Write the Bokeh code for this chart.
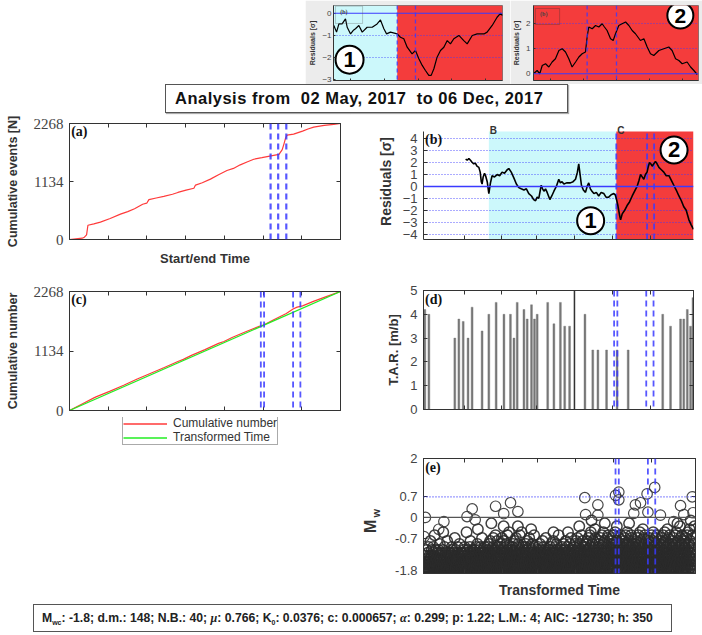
import numpy as np
from bokeh.plotting import figure
from bokeh.models import (Range1d, LinearAxis, FixedTicker, Span, BoxAnnotation,
                          Label, Legend, LegendItem, Div, Spacer)
from bokeh.layouts import column, row
from bokeh.embed import file_html
from bokeh.resources import INLINE
from bokeh.core.properties import value

# ---------------- data ----------------
title_from = "02 May, 2017"
title_to = "06 Dec, 2017"

# (a) cumulative events vs start/end time (time in % of window)
a_time = [0, 4.7, 5.5, 6.3, 6.8, 9.0, 11.4, 15.0, 18.8, 21.5, 24.0, 27.0, 28.5, 29.3, 32.0,
          34.8, 38.0, 40.0, 43.0, 45.9, 46.5, 49.0, 52.0, 55.0, 58.1, 60.5, 63.0, 65.5, 68.0,
          71.0, 73.9, 77.3, 78.5, 79.2, 79.7, 80.3, 82.7, 86.0, 88.0, 90.1, 94.0, 97.5, 100]
a_count = [0, 25, 45, 89, 278, 305, 340, 410, 497, 545, 600, 690, 710, 780, 812,
           844, 885, 920, 965, 1002, 1064, 1110, 1180, 1265, 1348, 1390, 1460, 1515, 1569,
           1600, 1631, 1663, 1758, 1880, 1979, 2041, 2060, 2120, 2160, 2198, 2230, 2249, 2268]
a_marks = [74.2, 77.0, 80.0]
count_ticks = [0, 1134, 2268]
time_ticks = [14.29, 28.57, 42.86, 57.14, 71.43, 85.71]

# (b) residuals
res_t = [15.6, 16.2, 16.8, 17.4, 17.9, 18.6, 19.2, 19.8, 20.5, 21.0, 21.4, 21.7, 22.1, 22.6,
         23.0, 23.6, 24.2, 24.8, 25.4, 26.3, 27.3, 28.2, 29.1, 30.0, 31.0, 31.6, 32.5, 33.5,
         34.4, 35.3, 36.2, 37.2, 38.1, 39.0, 40.0, 40.8, 41.5, 42.1, 42.7, 43.6, 44.1, 44.6,
         45.2, 45.8, 46.3, 46.8, 47.5, 48.3, 49.2, 50.1, 50.7, 51.3, 52.0, 53.0, 54.4, 55.4,
         56.3, 57.0, 57.5, 58.0, 58.5, 59.2, 60.0, 60.6, 61.2, 61.8, 62.4, 63.1, 64.0, 64.9,
         65.8, 66.8, 67.6, 68.6, 69.5, 70.5, 71.0, 71.4, 72.0, 72.3, 72.7, 73.0, 73.6, 74.5,
         75.4, 76.3, 77.3, 78.2, 79.1, 79.8, 80.4, 81.0, 81.6, 82.2, 82.8, 83.3, 83.7, 84.2,
         84.7, 85.3, 85.9, 86.5, 87.2, 88.1, 89.0, 89.9, 90.9, 91.8, 92.7, 93.6, 94.6, 95.5,
         96.4, 97.3, 98.3, 99.1, 100]
res_v = [2.3, 2.2, 2.35, 2.2, 2.05, 1.9, 1.95, 1.7, 1.6, 1.2, 0.4, 0.2, 0.8, 1.1,
         0.9, 0.4, -0.6, 0.3, 0.9, 0.8, 1.0, 0.9, 1.2, 1.1, 1.4, 1.5, 1.2, 0.7,
         0.2, -0.1, -0.2, -0.3, -0.2, -0.6, -0.8, -1.1, -1.2, -0.9, -1.0, 0.1, -0.2, -0.4,
         -0.2, -0.5, -0.8, -1.1, -0.8, -0.4, 0.0, 0.6, 0.3, 0.4, 0.2, 0.3, 0.3, 0.4,
         0.6, 1.2, 1.9, 1.0, 0.1, -0.3, -0.5, 0.0, 0.3, -0.2, -0.4, -0.6, -0.5, -0.8,
         -0.5, -0.6, -0.9, -0.9, -0.7, -0.6, -0.7, -1.0, -1.6, -2.0, -2.5, -2.8, -2.3, -2.0,
         -1.6, -1.3, -0.8, -0.4, 0.0, 0.5, 1.0, 0.8, 0.6, 1.0, 1.2, 1.7, 2.0, 1.9,
         1.7, 1.9, 2.1, 1.9, 1.6, 1.4, 1.2, 0.9, 0.9, 0.5, 0.1, -0.3, -0.8, -1.2,
         -1.7, -2.0, -2.8, -3.2, -3.6]
b_ylim = (-4.45, 4.6)
b_start, c_start = 24.2, 71.4
b_marks = [71.4, 82.8, 85.4]
res_ticks = [-4, -3, -2, -1, 0, 1, 2, 3, 4]
b_xticks = [15, 29, 42, 56, 70, 84]
b_circles_t = [61.9, 92.8]
b_circles_v = [-2.87, 3.06]
b_circles_txt = ["1", "2"]

# inset 1 (period B + C residuals)
i1_t = [0.2, 1.8, 3.2, 5.1, 7.1, 8.1, 10.1, 11.6, 13.0, 15.0, 17.0, 19.9, 22.9, 25.8, 27.8,
        29.8, 31.4, 33.7, 37.7, 39.6, 41.6, 43.6, 46.5, 48.5, 50.5, 52.5, 54.4, 56.4, 57.8,
        59.4, 61.3, 63.3, 65.3, 67.3, 69.2, 71.2, 74.2, 77.1, 79.1, 82.1, 85.0, 89.0, 90.9,
        93.9, 96.8, 98.8, 100]
i1_v = [-0.55, -0.85, -0.48, -0.48, -0.25, -0.63, -0.93, -0.78, -0.7, -0.55, -0.85, -0.63,
        -0.63, -0.48, -0.3, -0.7, -0.93, -0.85, -0.93, -1.08, -1.15, -1.53, -1.83, -1.68,
        -2.05, -2.35, -2.58, -2.8, -2.8, -2.5, -1.98, -1.68, -1.53, -1.23, -1.38, -1.15, -1.0,
        -1.23, -1.38, -1.0, -0.93, -0.93, -0.85, -0.55, -0.18, 0.0, -0.1]
i1_split = 37.7
i1_marks = [37.7, 48.5]
i1_ticks = [-3, -2, -1, 0]

# inset 2 (period C residuals)
i2_t = [0, 2.2, 3.8, 5.3, 7.3, 9.3, 11.3, 13.3, 15.4, 17.4, 19.4, 21.4, 23.4, 25.5, 27.5,
        29.5, 31.5, 32.5, 33.5, 35.6, 37.6, 39.6, 41.6, 43.0, 44.6, 46.7, 48.3, 49.7, 51.7,
        53.7, 55.8, 57.8, 59.8, 61.8, 64.8, 66.9, 68.9, 70.9, 72.9, 76.0, 79.0, 82.0, 84.0,
        86.1, 88.1, 90.1, 93.1, 95.2, 97.2, 99.2]
i2_v = [0, 0.13, 0, 0.33, 0.4, 0.27, 0.47, 0.6, 0.93, 1.0, 0.87, 0.6, 0.27, 0.47, 0.67,
        0.8, 0.87, 1.47, 1.87, 1.8, 1.93, 1.87, 2.0, 1.87, 1.73, 1.4, 1.33, 1.6, 1.93,
        2.0, 2.07, 1.93, 1.73, 1.6, 1.33, 1.4, 1.07, 0.8, 0.73, 0.93, 1.0, 1.07, 0.93,
        0.6, 0.53, 0.4, 0.47, 0.27, 0.13, -0.03]
i2_marks = [32.5, 50.3]
i2_ticks = [0, 1, 2]

# (c) cumulative number vs transformed time
c_time = [0, 5, 9, 10, 15, 20, 25, 30, 35, 40, 42, 45, 50, 55, 57, 60, 65, 70, 71, 72,
          75, 80, 82.5, 84, 86, 90, 95, 100]
c_count = [0, 135, 240, 265, 370, 480, 600, 710, 820, 935, 975, 1050, 1160, 1280, 1315,
           1390, 1500, 1605, 1620, 1640, 1720, 1850, 1935, 1970, 1995, 2080, 2175, 2268]
tt_time = [0, 100]
tt_count = [0, 2268]
legend_labels = ["Cumulative number", "Transformed Time"]
cde_marks = [70.6, 71.8, 82.5, 85.2]

# (d) T.A.R.
tar_t = [0.5, 2.0, 11.6, 13.1, 14.7, 16.5, 18.0, 21.7, 24.2, 26.9, 29.8, 32.2, 33.5, 34.7,
         37.2, 38.4, 40.0, 41.1, 42.1, 46.0, 48.3, 50.7, 52.3, 54.1, 59.8, 62.7, 64.6, 67.8,
         71.7, 75.8, 88.6, 91.5, 95.2, 96.4, 97.7, 98.9, 99.8]
tar_v = [4.2, 4.0, 3.0, 3.8, 3.7, 3.0, 4.3, 3.3, 4.0, 4.5, 4.0, 4.0, 3.0, 4.5,
         4.2, 3.8, 4.4, 3.8, 4.0, 4.5, 3.6, 4.5, 3.5, 3.5, 4.0, 2.5, 2.5, 2.5,
         2.5, 2.5, 4.0, 3.5, 3.8, 3.8, 4.2, 3.5, 4.7]
tar_divider_t = [55.9]
tar_divider_v = [5]
tar_ticks = [0, 1, 2, 3, 4, 5]

# (e) magnitudes, one letter per event in transformed-time order:
#     a = -1.8, b = -1.7, c = -1.6 ... (steps of 0.1)
mw_levels = "abcdefghijklmnopqrstuvwxyz"
mw_codes = (
    "acbadfabhcaebgadicafbdaekbacfhabdgaicebafmbdachaeb"
    "bacfdaghbaecjabdfacgbeadhancbfaiedbagcabfdkacebgad"
    "adcbfagcbeaidhabcfebagdlacbhfadcebaigbdfacjebadcgb"
    "cabgdfaebhcadibfgacednbafchbaegdcaibfkadcegbahdfcb"
    "abecfdhgaicbedfjaobcgadehfbaicdgbelacfhbdaegcibadf"
    "dabcfgeihadbjcefakdbgcqhaebdfilacgbehdamcbfagdkeib"
    "bcadfehgjbaidcflabegchpkadbfegicajbdhmaecgfbnadcie"
    "acbfdgehiabjcdefkacbghlaedcfibpajbcdgemhafcbdnaegi"
    "badcfehgabicdjfaebgkhcadfblicaegdhobacfjedgbiamcdf"
    "acbdfaegbhcadifbcaegjbdahfcebagkdbaicfhedabglacbfd"
    "bacdgfbeahcidbfajcgebdhaknbcfeagdibcahjfbdegacmbdf"
    "cabfdegahbcidfaebjgcadhbfkaecdgibanfcbhedajcgbldfa"
    "badcegfhaibdjcfeakgbdhclabfiecpdgajbhcemfadbkgiecb"
    "dacbgefihjbakdcfglaebhcmdianfbregjcdakbhfiecolgdba"
    "acbdfhegiajbckdfelagbhmcdifanbjegkqdbchafiegldbcma"
    "bdacfegihbjackdflegbmahcidnfbejgkpacdhbifelgcjadmb"
    "cadbgfehibjcakdflegmbhcainfdjbgekqcahdbifmlgecjdab"
    "abdcfgheijbackdfleghbmaicdjnfbegkhacdibofelgcjambd"
    "dbacgfehibjcdkafleghbciadmjfbegnkhcaibdfelgcjbamdh"
    "acbdgfheicjbkadflegbhmcaidjfnbegkchaibdofelgcjadmb"
    "bdcagefhijbkcadlfgebmhcianjdfbqegkchaibdpfelgcjamd"
    "cabdfgehijkbcadlfgembhncaidjfobegkrchaibdmfelgcjap"
)
# larger events read individually (transformed time %, Mw)
mw_big_t = [0.7, 17.9, 26.5, 32.0, 29.5, 34.7, 16.0, 19.0, 59.3, 59.6, 64.1, 64.1, 70.6, 71.8,
            71.8, 77.9, 79.8, 82.2, 82.5, 85.0, 87.1, 94.5, 95.7, 98.8, 99.1, 77.3, 92.0, 7.5,
            5.6, 0.2]
mw_big_v = [0.0, 0.29, 0.38, 0.5, 0.13, 0.2, 0.03, -0.08, 0.67, 0.1, 0.43, 0.08, 0.75, 0.86,
            0.6, 0.43, 0.5, 0.8, 0.18, 1.02, 0.08, 0.4, 0.1, 0.7, 0.16, 0.14, -0.14, -0.14,
            -0.4, -0.65]
mw_ylim = (-1.9, 2.0)
mw_ticks = [-1.8, -0.7, 0, 0.7, 2]
mw_tick_text = {-1.8: "-1.8", -0.7: "-0.7", 0: "0", 0.7: "0.7", 2: "2"}
mw_ref = 0.7

# footer parameters
par_names = ["M<sub style='font-size:7px'>wc</sub>", "d.m.", "N.B.",
             "<i style='font-family:Liberation Serif'>μ</i>",
             "K<sub style='font-size:7px'>0</sub>", "c",
             "<i style='font-family:Liberation Serif'>α</i>", "p", "L.M.", "AIC", "h"]
par_values = ["-1.8", "148", "40", "0.766", "0.0376", "0.000657", "0.299", "1.22", "4",
              "-12730", "350"]

# ---------------- styling helpers ----------------
SANS = "Liberation Sans"
SERIF = "Liberation Serif"
AX = "#333333"
TXT = "#444444"
BLUE = "#3a3aff"
RED = "#f43c3c"
CYAN = "#ccf8fb"
LRED = "#ff3a3a"
LGREEN = "#22ee22"


def base_fig(w, h, xr, yr, l, r, t, b, fill="white"):
    p = figure(width=w, height=h, x_range=Range1d(*xr), y_range=Range1d(*yr),
               output_backend="svg", toolbar_location=None,
               min_border_left=l, min_border_right=r, min_border_top=t, min_border_bottom=b)
    p.xgrid.visible = False
    p.ygrid.visible = False
    p.border_fill_color = fill
    p.background_fill_color = "white"
    p.outline_line_color = AX
    return p


def style_axis(ax, ticks, labels=True, font=SANS, size="13px", tick=4):
    ax.ticker = FixedTicker(ticks=ticks)
    ax.minor_tick_line_color = None
    ax.major_tick_in = tick
    ax.major_tick_out = 0
    ax.axis_line_color = AX
    ax.major_tick_line_color = AX
    if labels:
        ax.major_label_text_font = font
        ax.major_label_text_font_size = size
        ax.major_label_text_color = TXT
        ax.major_label_standoff = 6
    else:
        ax.major_label_text_font_size = "0px"
        ax.major_label_text_alpha = 0
        ax.major_label_text_color = None
        ax.major_label_standoff = 0


def title_axis(ax, text, size="13px", standoff=6):
    ax.axis_label = text
    ax.axis_label_text_font = SANS
    ax.axis_label_text_font_style = "bold"
    ax.axis_label_text_font_size = size
    ax.axis_label_text_color = "#333333"
    ax.axis_label_standoff = standoff


def box_axes(p, xt, yt):
    for loc, t in (("right", yt), ("above", xt)):
        ax = LinearAxis()
        style_axis(ax, t, labels=False)
        p.add_layout(ax, loc)


def vmarks(p, xs, width=2, dash="6 4"):
    for x in xs:
        p.add_layout(Span(location=x, dimension="height", line_color=BLUE, line_alpha=0.85,
                          line_width=width, line_dash=dash))


def panel_tag(p, x, y, txt):
    p.add_layout(Label(x=x, y=y, text=txt, text_font=SERIF, text_font_style="bold",
                       text_font_size="14px", text_baseline="top", text_color="#111111"))


def circled(p, xs, ys, txts, size=26, fsize="20px"):
    p.scatter(x=xs, y=ys, size=size, marker="circle", fill_color="white",
              line_color="black", line_width=2)
    p.text(x=xs, y=ys, text=txts, text_align="center", text_baseline="middle",
           text_font=value(SANS), text_font_style="bold", text_font_size=fsize,
           text_color="black")


def blank_fig(w, h, xr, yr, t=0, b=0):
    f = figure(width=w, height=h, x_range=Range1d(*xr), y_range=Range1d(*yr),
               output_backend="svg", toolbar_location=None, min_border_left=0,
               min_border_right=0, min_border_top=t, min_border_bottom=b)
    f.axis.visible = False
    f.grid.visible = False
    f.outline_line_color = None
    return f


# ---------------- insets ----------------
INSET_BG = "#ececec"
ins1 = base_fig(205, 84, (0, 100), (-3.03, 0.35), 28, 8, 5, 4, fill=INSET_BG)
ins1.add_layout(BoxAnnotation(left=0, right=i1_split, fill_color=CYAN, fill_alpha=1,
                              line_color=None, level="image"))
ins1.add_layout(BoxAnnotation(left=i1_split, right=100, fill_color=RED, fill_alpha=1,
                              line_color=None, level="image"))
ins1.ygrid.visible = True
ins1.ygrid.ticker = FixedTicker(ticks=[-2, -1])
ins1.ygrid.grid_line_color = BLUE
ins1.ygrid.grid_line_dash = "1 2"
ins1.ygrid.grid_line_alpha = 0.8
ins1.add_layout(Span(location=0, dimension="width", line_color=BLUE, line_width=1.2))
vmarks(ins1, i1_marks, width=1.3, dash="4 3")
ins1.line(i1_t, i1_v, line_color="black", line_width=1.2)
ins1.add_layout(BoxAnnotation(left=1.2, right=17.2, top=0.32, bottom=-0.46, fill_alpha=0,
                              line_color="#555555", line_width=1))
ins1.add_layout(Label(x=4, y=0.2, text="(b)", text_font=SERIF, text_font_style="bold",
                      text_font_size="6px", text_baseline="top"))
circled(ins1, [9.5], [-2.09], ["1"], size=28, fsize="22px")
style_axis(ins1.yaxis[0], i1_ticks, size="8px", tick=2)
ins1.yaxis[0].major_label_standoff = 2
title_axis(ins1.yaxis[0], "Residuals [σ]", size="7px", standoff=3)
style_axis(ins1.xaxis[0], [10, 30, 50, 70, 90], labels=False, tick=2)
ins1.outline_line_color = "#777777"

ins2 = base_fig(192, 84, (0, 100), (-0.27, 2.73), 23, 4, 5, 4, fill=INSET_BG)
ins2.add_layout(BoxAnnotation(left=0, right=100, fill_color=RED, fill_alpha=1,
                              line_color=None, level="image"))
ins2.ygrid.visible = True
ins2.ygrid.ticker = FixedTicker(ticks=[1, 2])
ins2.ygrid.grid_line_color = BLUE
ins2.ygrid.grid_line_dash = "1 2"
ins2.ygrid.grid_line_alpha = 0.8
ins2.add_layout(Span(location=0, dimension="width", line_color=BLUE, line_width=1.2))
vmarks(ins2, i2_marks, width=1.3, dash="4 3")
ins2.line(i2_t, i2_v, line_color="black", line_width=1.2)
ins2.add_layout(BoxAnnotation(left=1.2, right=15.8, top=2.61, bottom=1.97, fill_alpha=0,
                              line_color="#333333", line_width=1))
ins2.add_layout(Label(x=4, y=2.5, text="(b)", text_font=SERIF, text_font_style="bold",
                      text_font_size="6px", text_baseline="top"))
circled(ins2, [89], [2.33], ["2"], size=26, fsize="21px")
style_axis(ins2.yaxis[0], i2_ticks, size="8px", tick=2)
ins2.yaxis[0].major_label_standoff = 3
title_axis(ins2.yaxis[0], "Residuals [σ]", size="7px", standoff=3)
style_axis(ins2.xaxis[0], [10, 30, 50, 70, 90], labels=False, tick=2)
ins2.outline_line_color = "#777777"

# ---------------- title ----------------
title_div = Div(text=(
    "<div style=\"box-sizing:border-box;width:403px;height:29px;border:1px solid #555;"
    "box-shadow:1px 1px 1px #aaa;font-family:'Liberation Sans';font-weight:bold;"
    "font-size:16.5px;letter-spacing:0.5px;line-height:27px;padding-left:9px;color:#111;"
    "white-space:pre;\">"
    f"Analysis from  {title_from}  to {title_to}</div>"), width=405, height=30, margin=0)

# ---------------- (a) ----------------
pa = base_fig(350, 154, (0, 100), (0, 2268), 69, 10, 9, 25)
pa.line(a_time, a_count, line_color=LRED, line_width=1.2)
vmarks(pa, a_marks, width=2.2)
style_axis(pa.yaxis[0], count_ticks, font=SERIF, size="15px")
title_axis(pa.yaxis[0], "Cumulative events [N]", size="12.5px", standoff=11)
style_axis(pa.xaxis[0], time_ticks, labels=False)
title_axis(pa.xaxis[0], "Start/end Time", size="13px", standoff=11)
box_axes(pa, time_ticks, count_ticks)
panel_tag(pa, 0.6, 2262, "(a)")

# ---------------- (b) ----------------
# frame extended upward so the period letters sit above the plotted box
pb = base_fig(352, 154, (0, 100), (b_ylim[0], 5.28), 73, 9, 0, 25)
pb.outline_line_color = None
pb.add_layout(BoxAnnotation(left=b_start, right=c_start, top=b_ylim[1], fill_color=CYAN,
                            fill_alpha=1, line_color=None, level="image"))
pb.add_layout(BoxAnnotation(left=c_start, right=100, top=b_ylim[1], fill_color=RED,
                            fill_alpha=1, line_color=None, level="image"))
pb.ygrid.visible = True
pb.ygrid.ticker = FixedTicker(ticks=[t for t in res_ticks if t != 0])
pb.ygrid.grid_line_color = BLUE
pb.ygrid.grid_line_dash = "1 2"
pb.ygrid.grid_line_width = 1.2
pb.ygrid.grid_line_alpha = 0.85
pb.add_layout(Span(location=0, dimension="width", line_color=BLUE, line_width=1.5))
pb.segment(x0=b_marks, y0=[b_ylim[0]] * len(b_marks), x1=b_marks, y1=[b_ylim[1]] * len(b_marks),
           line_color=BLUE, line_alpha=0.85, line_width=1.8, line_dash="6 4")
pb.line(res_t, res_v, line_color="black", line_width=1.6)
circled(pb, b_circles_t, b_circles_v, b_circles_txt, size=27, fsize="22px")
style_axis(pb.yaxis[0], res_ticks, size="13px")
pb.yaxis[0].bounds = b_ylim
title_axis(pb.yaxis[0], "Residuals [σ]", size="14px", standoff=6)
style_axis(pb.xaxis[0], b_xticks, labels=False)
panel_tag(pb, 0.6, 4.58, "(b)")
pb.text(x=[b_start, c_start], y=[b_ylim[1], b_ylim[1]], text=["B", "C"], x_offset=1,
        y_offset=-1, text_font=value(SANS), text_font_style="bold", text_font_size="10px",
        text_baseline="alphabetic", text_color="#333333")

# ---------------- (c) ----------------
pc = base_fig(350, 149, (0, 100), (0, 2268), 69, 10, 23, 7)
pc.line(c_time, c_count, line_color=LRED, line_width=1.2)
pc.line(tt_time, tt_count, line_color=LGREEN, line_width=1.2)
vmarks(pc, cde_marks, width=1.8)
style_axis(pc.yaxis[0], count_ticks, font=SERIF, size="15px")
title_axis(pc.yaxis[0], "Cumulative number", size="12.5px", standoff=11)
style_axis(pc.xaxis[0], time_ticks, labels=False)
box_axes(pc, time_ticks, count_ticks)
panel_tag(pc, 0.6, 2262, "(c)")

# legend strip below (c); its frame lines up with the frame of (c) (x 69..340)
legf = blank_fig(350, 28, (0, 271), (0, 28))
l_cum = legf.line(x=[-20, -10], y=[-20, -20], line_color=LRED, line_width=1.4)
l_tt = legf.line(x=[-20, -10], y=[-20, -20], line_color=LGREEN, line_width=1.4)
leg = Legend(items=[LegendItem(label=value(legend_labels[0]), renderers=[l_cum]),
                    LegendItem(label=value(legend_labels[1]), renderers=[l_tt])],
             location=(53, 0), orientation="vertical", glyph_width=44, glyph_height=13,
             label_height=13, label_standoff=6, spacing=0, padding=0, margin=0,
             label_text_font=SANS, label_text_font_size="12px", label_text_color="#333333",
             label_text_line_height=1.0,
             border_line_color="#555555", background_fill_color="white",
             background_fill_alpha=1)
legf.add_layout(leg)

# ---------------- (d) ----------------
pd_ = base_fig(352, 177, (0, 100), (0, 5), 73, 9, 22, 36)
pd_.vbar(x=tar_t, top=tar_v, bottom=0, width=0.7, fill_color="#777777",
         line_color="#777777", line_width=0.4)
pd_.vbar(x=tar_divider_t, top=tar_divider_v, bottom=0, width=0.3, fill_color="#222222",
         line_color="#222222", line_width=0.6)
vmarks(pd_, cde_marks, width=1.8)
style_axis(pd_.yaxis[0], tar_ticks, size="13px")
title_axis(pd_.yaxis[0], "T.A.R. [m/b]", size="13px", standoff=6)
style_axis(pd_.xaxis[0], b_xticks, labels=False)
box_axes(pd_, b_xticks, tar_ticks)
panel_tag(pd_, 0.6, 4.95, "(d)")

# ---------------- (e) ----------------
pe = base_fig(317, 155, (0, 100), mw_ylim, 38, 7, 13, 22)
ev_m = np.array([mw_levels.index(ch) for ch in mw_codes]) / 10.0 - 1.8
ev_t = np.linspace(0.4, 99.6, len(ev_m))
pe.add_layout(Span(location=0, dimension="width", line_color="#555555", line_width=1.2))
pe.add_layout(Span(location=mw_ref, dimension="width", line_color=BLUE, line_width=1.2,
                   line_dash="1 2"))
pe.scatter(x=ev_t, y=ev_m, marker="circle", size=10.5, fill_color=None,
           line_color="#2a2a2a", line_width=1.5, line_alpha=0.9)
pe.scatter(x=mw_big_t, y=mw_big_v, marker="circle", size=10.5, fill_color=None,
           line_color="#333333", line_width=1.2, line_alpha=0.9)
vmarks(pe, cde_marks, width=1.8)
style_axis(pe.yaxis[0], mw_ticks, size="13px")
pe.yaxis[0].major_label_overrides = mw_tick_text
style_axis(pe.xaxis[0], b_xticks, labels=False)
title_axis(pe.xaxis[0], "Transformed Time", size="14px", standoff=8)
box_axes(pe, b_xticks, mw_ticks)
panel_tag(pe, 0.6, 1.96, "(e)")

# y-axis title M_w (rotated, with a real subscript) left of panel (e)
mw_div = Div(text=(
    "<div style=\"position:relative;width:30px;height:155px;\">"
    "<div style=\"position:absolute;left:17px;top:76px;transform:translate(-50%,-50%) "
    "rotate(-90deg);white-space:nowrap;font-family:'Liberation Sans';font-weight:bold;"
    "font-size:16px;color:#333;\">M<sub style=\"font-size:11px;margin-left:2px\">w</sub>"
    "</div></div>"), width=30, height=155, margin=0)

# ---------------- footer ----------------
footer_txt = "; ".join(f"{n}: {v}" for n, v in zip(par_names, par_values))
footer_div = Div(text=(
    "<div style=\"box-sizing:border-box;margin-top:4px;width:639px;height:28px;"
    "border:1px solid #555;font-family:'Liberation Sans';font-weight:bold;font-size:12.2px;"
    "line-height:26px;padding-left:8px;color:#222;white-space:nowrap;\">"
    f"{footer_txt}</div>"), width=645, height=35, margin=0)

layout = column(
    row(Spacer(width=305, height=84), ins1, ins2),
    row(Spacer(width=165, height=30), title_div),
    row(pa, pb),
    row(column(pc, legf), pd_),
    row(Spacer(width=355, height=155), mw_div, pe),
    row(Spacer(width=33, height=35), footer_div),
)

open("out.html", "w").write(file_html(layout, INLINE))
